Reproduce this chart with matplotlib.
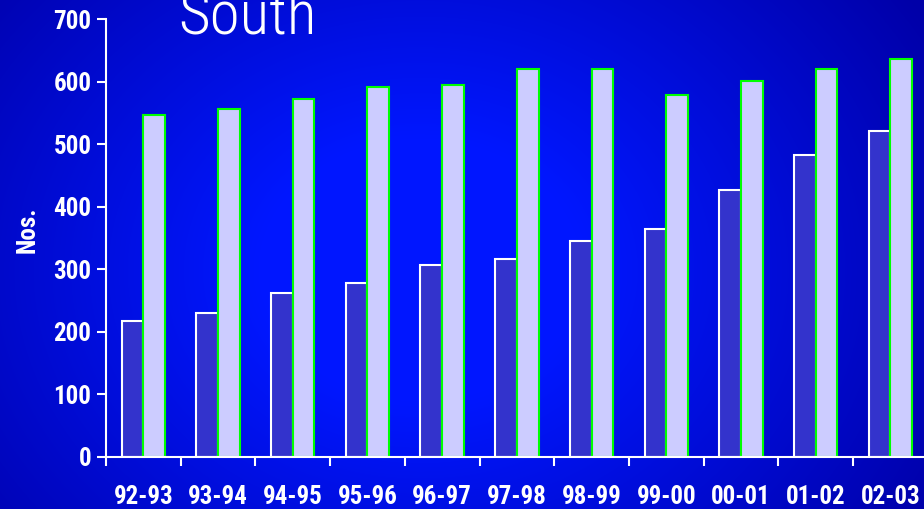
import numpy as np
import matplotlib.pyplot as plt

# Yearly figures, southern region
years = ["92-93", "93-94", "94-95", "95-96", "96-97", "97-98",
         "98-99", "99-00", "00-01", "01-02", "02-03"]
series_a = [217, 230, 262, 278, 307, 316, 345, 364, 427, 483, 521]
series_b = [547, 556, 572, 591, 594, 620, 620, 579, 601, 620, 636]

plt.rcParams['font.family'] = ['Roboto Condensed', 'DejaVu Sans']

W, H = 924, 509
fig = plt.figure(figsize=(W / 100, H / 100), dpi=100)

# Blue backdrop, brighter towards the middle and darker at the edges
bg = fig.add_axes([0, 0, 1, 1], zorder=0)
yy, xx = np.mgrid[0:H, 0:W]
d = np.sqrt(((xx - 420) / 540.0) ** 2 + ((yy - 270) / 440.0) ** 2)
t = np.clip((d - 0.3) / 0.8, 0, 1)
bright = np.array([0.0, 0.09, 1.0])
dark = np.array([0.0, 0.0, 0.66])
img = bright[None, None, :] * (1 - t[..., None]) + dark[None, None, :] * t[..., None]
bg.imshow(img, extent=[0, 1, 0, 1], aspect='auto', origin='upper')
bg.axis('off')

# Main axes
ax = fig.add_axes([106 / W, 52 / H, 11 * 74.7 / W, 438 / H], zorder=1)
ax.patch.set_alpha(0)

x = np.arange(len(years))
bw = 0.29
ax.bar(x - bw / 2, series_a, bw, color='#3333cc', edgecolor='white', linewidth=1.5)
ax.bar(x + bw / 2, series_b, bw, color='#ccccff', edgecolor='#00ff00', linewidth=1.5)

ax.set_xlim(-0.5, len(years) - 0.5)
ax.set_ylim(0, 700)

for side in ['top', 'right']:
    ax.spines[side].set_visible(False)
for side in ['left', 'bottom']:
    ax.spines[side].set_color('white')
    ax.spines[side].set_linewidth(1.5)

ax.set_yticks(np.arange(0, 701, 100))
ax.tick_params(axis='y', colors='white', direction='out', length=6.5, width=1.5,
               pad=4, labelsize=18)
for lbl in ax.get_yticklabels():
    lbl.set_fontweight('bold')

# Year labels sit under the groups, tick marks on the group boundaries
ax.set_xticks(x)
ax.set_xticklabels(years, fontsize=18, fontweight='bold', color='white')
ax.tick_params(axis='x', which='major', length=0, pad=20)
ax.set_xticks(np.arange(-0.5, len(years), 1.0), minor=True)
ax.tick_params(axis='x', which='minor', colors='white', direction='out', length=6.5, width=1.5)

fig.text(28 / W, 1 - 230 / H, "Nos.", rotation=90, color='white', fontsize=18,
         fontweight='bold', ha='center', va='center')
fig.text(178 / W, 1 - 34 / H, "South", color='white', fontsize=44, fontweight=300,
         ha='left', va='baseline')

fig.savefig("out.png", dpi=100)
